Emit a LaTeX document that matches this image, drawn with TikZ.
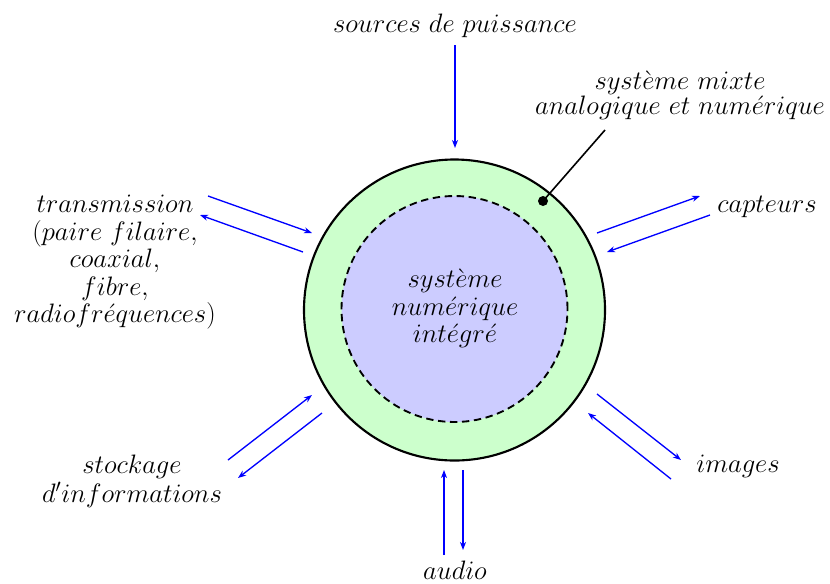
\documentclass[tikz,border=0pt]{standalone}
\usepackage{fix-cm}
\usetikzlibrary{arrows.meta}
\begin{document}
\begin{tikzpicture}[x=0.75pt,y=-0.75pt,
  lbl/.style={font=\fontsize{20}{20.6}\selectfont, align=center, inner sep=0pt},
  tight/.style={font=\fontsize{20}{19}\selectfont},
  flow/.style={draw=blue, line width=1pt, -{Stealth[length=6pt,width=4.5pt,inset=1.8pt]}},
  ring/.style={circle, draw, inner sep=0pt}]
\useasboundingbox (0,0) rectangle (830,583);
% circles
\node[ring, line width=1.6pt, fill=green!20, minimum size=225.75pt] (outer) at (454.5,310) {};
\node[ring, line width=1.4pt, dash pattern=on 5.5pt off 3.5pt, fill=blue!20, minimum size=169.5pt] (inner) at (454.5,309) {};
\node[lbl] (core) at (455,308.5) {$syst\grave{e}me$\\$num\acute{e}rique$\\$int\acute{e}gr\acute{e}$};
% labels
\node[lbl] (src) at (455,26) {$sources\ de\ puissance$};
\node[lbl, tight] (mixte) at (680,95.5) {$syst\grave{e}me\ mixte$\\$analogique\ et\ num\acute{e}rique$};
\node[lbl] (capt) at (767,206.5) {$capteurs$};
\node[lbl] (img) at (738,466) {$images$};
\node[lbl] (aud) at (455,570) {$audio$};
\node[lbl] (trans) at (115,262.5) {$transmission$\\$(paire\ filaire,$\\$coaxial,$\\$fibre,$\\$radiofr\acute{e}quences)$};
\node[lbl, font=\fontsize{20}{21.5}\selectfont] (stock) at (132,481) {$stockage$\\$d'informations$};
% pointer
\node[circle, fill, inner sep=0pt, minimum size=7.5pt] (dot) at (543,201) {};
\coordinate (ptr) at (605,130);
\draw[line width=1.2pt] (ptr) -- (dot.center);
% arrow end points
\coordinate (s1) at (455,45);   \coordinate (s2) at (455,148);
\coordinate (t1) at (208,196);  \coordinate (t2) at (312,233);
\coordinate (t3) at (303,252);  \coordinate (t4) at (200,215);
\coordinate (c1) at (597,233);  \coordinate (c2) at (700,196);
\coordinate (c3) at (710,215);  \coordinate (c4) at (607,252);
\coordinate (k1) at (228,460);  \coordinate (k2) at (312,395);
\coordinate (k3) at (322,413);  \coordinate (k4) at (238,478);
\coordinate (i1) at (597,394);  \coordinate (i2) at (681,460);
\coordinate (i3) at (671,479);  \coordinate (i4) at (588,413);
\coordinate (a1) at (444,555);  \coordinate (a2) at (444,470);
\coordinate (a3) at (463,470);  \coordinate (a4) at (463,550);
% arrows
\draw[flow] (s1) -- (s2);
\draw[flow] (t1) -- (t2);
\draw[flow] (t3) -- (t4);
\draw[flow] (c1) -- (c2);
\draw[flow] (c3) -- (c4);
\draw[flow] (k1) -- (k2);
\draw[flow] (k3) -- (k4);
\draw[flow] (i1) -- (i2);
\draw[flow] (i3) -- (i4);
\draw[flow] (a1) -- (a2);
\draw[flow] (a3) -- (a4);
\end{tikzpicture}
\end{document}
